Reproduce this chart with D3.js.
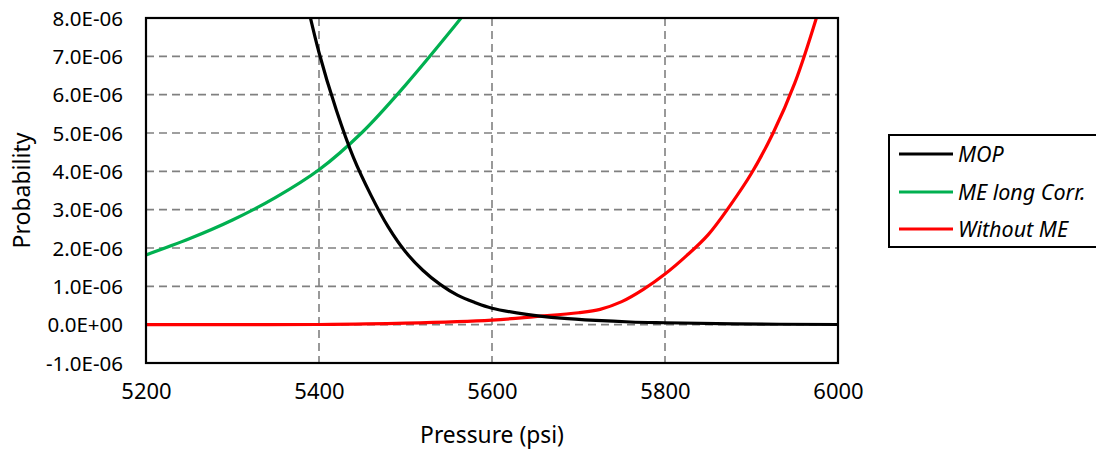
<!DOCTYPE html>
<html>
<head>
<meta charset="utf-8">
<script src="https://cdn.jsdelivr.net/npm/d3@7"></script>
<style>
  html, body { margin: 0; padding: 0; background: #fff; }
  svg { display: block; }
  text { font-family: "Noto Sans", "Open Sans", sans-serif; fill: #000; }
</style>
</head>
<body>
<svg id="chart" width="1096" height="454"></svg>
<script>
// ---- Data (probability values) ----
const xTicks = [5200, 5400, 5600, 5800, 6000];
const yTicks = [-1e-6, 0, 1e-6, 2e-6, 3e-6, 4e-6, 5e-6, 6e-6, 7e-6, 8e-6];

const seriesNames = ["MOP", "ME long Corr.", "Without ME"];
const seriesColors = ["#000000", "#00b050", "#ff0000"];

const mopPressure = [5380, 5400, 5420, 5440, 5460, 5480, 5500, 5520, 5540, 5560, 5580, 5600, 5640, 5680, 5720, 5760, 5800, 5880, 6000];
const mopProb = [9.0e-6, 7.1e-6, 5.6e-6, 4.35e-6, 3.38e-6, 2.55e-6, 1.9e-6, 1.42e-6, 1.05e-6, 0.77e-6, 0.58e-6, 0.43e-6, 0.27e-6, 0.17e-6, 0.11e-6, 0.07e-6, 0.05e-6, 0.02e-6, 0.005e-6];

const meLongPressure = [5200, 5250, 5300, 5350, 5400, 5450, 5500, 5550, 5580];
const meLongProb = [1.82e-6, 2.24e-6, 2.73e-6, 3.32e-6, 4.04e-6, 5.02e-6, 6.25e-6, 7.6e-6, 8.45e-6];

const withoutPressure = [5200, 5300, 5400, 5500, 5600, 5650, 5700, 5725, 5750, 5775, 5800, 5825, 5850, 5875, 5900, 5925, 5950, 5975, 5985];
const withoutProb = [0, 0, 0.005e-6, 0.04e-6, 0.12e-6, 0.21e-6, 0.31e-6, 0.40e-6, 0.60e-6, 0.92e-6, 1.32e-6, 1.80e-6, 2.35e-6, 3.1e-6, 3.95e-6, 5.0e-6, 6.3e-6, 8.0e-6, 8.8e-6];

// ---- Layout ----
const plot = { left: 146, top: 18, right: 838, bottom: 363 };
const svg = d3.select("#chart");

const x = d3.scaleLinear().domain([5200, 6000]).range([plot.left, plot.right]);
const y = d3.scaleLinear().domain([-1e-6, 8e-6]).range([plot.bottom, plot.top]);

function fmtExp(v) {
  if (Math.abs(v) < 1e-15) return "0.0E+00";
  const s = v.toExponential(1);
  const [m, e] = s.split("e");
  const sign = e[0] === "-" ? "-" : "+";
  const digits = e.replace(/[+-]/, "").padStart(2, "0");
  return m + "E" + sign + digits;
}

svg.append("defs").append("clipPath").attr("id", "plotclip")
  .append("rect")
  .attr("x", plot.left).attr("y", plot.top)
  .attr("width", plot.right - plot.left).attr("height", plot.bottom - plot.top);

// gridlines
const grid = svg.append("g").attr("class", "grid");
grid.selectAll("line.h").data(yTicks.filter(t => t > -1e-6 && t < 8e-6))
  .join("line")
  .attr("x1", plot.left).attr("x2", plot.right)
  .attr("y1", d => y(d)).attr("y2", d => y(d))
  .attr("stroke", "#808080").attr("stroke-width", 1.6).attr("stroke-dasharray", "8,5");
grid.selectAll("line.v").data(xTicks.filter(t => t > 5200 && t < 6000))
  .join("line")
  .attr("y1", plot.top).attr("y2", plot.bottom)
  .attr("x1", d => x(d)).attr("x2", d => x(d))
  .attr("stroke", "#808080").attr("stroke-width", 1.6).attr("stroke-dasharray", "8,5");

// axes
const yAxis = d3.axisLeft(y).tickValues(yTicks).tickFormat(fmtExp).tickSize(0).tickPadding(23);
const gy = svg.append("g").attr("transform", `translate(${plot.left},0)`).call(yAxis);
gy.select(".domain").remove();
gy.selectAll("text").style("font-size", "20.5px").attr("dy", "0.35em")
  .style("font-family", '"Noto Sans", sans-serif');

const xAxis = d3.axisBottom(x).tickValues(xTicks).tickFormat(d3.format("d")).tickSize(0).tickPadding(20);
const gx = svg.append("g").attr("transform", `translate(0,${plot.bottom})`).call(xAxis);
gx.select(".domain").remove();
gx.selectAll("text").style("font-size", "22px")
  .style("font-family", '"Noto Sans", sans-serif');

// series
const series = [
  { name: seriesNames[0], color: seriesColors[0], xs: mopPressure, ys: mopProb },
  { name: seriesNames[1], color: seriesColors[1], xs: meLongPressure, ys: meLongProb },
  { name: seriesNames[2], color: seriesColors[2], xs: withoutPressure, ys: withoutProb }
];
const line = d3.line()
  .x(d => x(d[0])).y(d => y(d[1]))
  .curve(d3.curveCatmullRom.alpha(0.5));

const lines = svg.append("g").attr("clip-path", "url(#plotclip)");
[series[2], series[1], series[0]].forEach(s => {
  lines.append("path")
    .datum(s.xs.map((p, i) => [p, s.ys[i]]))
    .attr("d", line)
    .attr("fill", "none")
    .attr("stroke", s.color)
    .attr("stroke-width", 3.2)
    .attr("stroke-linejoin", "round");
});

// plot frame
svg.append("rect")
  .attr("x", plot.left).attr("y", plot.top)
  .attr("width", plot.right - plot.left).attr("height", plot.bottom - plot.top)
  .attr("fill", "none").attr("stroke", "#000").attr("stroke-width", 2.2);

// axis titles
svg.append("text")
  .attr("x", (plot.left + plot.right) / 2).attr("y", 443)
  .attr("text-anchor", "middle")
  .style("font-size", "22.8px")
  .text("Pressure (psi)");
svg.append("text")
  .attr("transform", `translate(30,${(plot.top + plot.bottom) / 2}) rotate(-90)`)
  .attr("text-anchor", "middle")
  .style("font-size", "23px")
  .text("Probability");

// legend
const legend = svg.append("g");
legend.append("rect")
  .attr("x", 889).attr("y", 135).attr("width", 220).attr("height", 112)
  .attr("fill", "#fff").attr("stroke", "#000").attr("stroke-width", 2);
const rowsY = [154, 192, 229];
series.forEach((s, i) => {
  legend.append("line")
    .attr("x1", 899).attr("x2", 953)
    .attr("y1", rowsY[i]).attr("y2", rowsY[i])
    .attr("stroke", s.color).attr("stroke-width", 3.2);
  legend.append("text")
    .attr("x", 958).attr("y", rowsY[i]).attr("dy", "0.35em")
    .style("font-size", "21.5px").style("font-style", "italic")
    .text(s.name);
});
</script>
</body>
</html>
